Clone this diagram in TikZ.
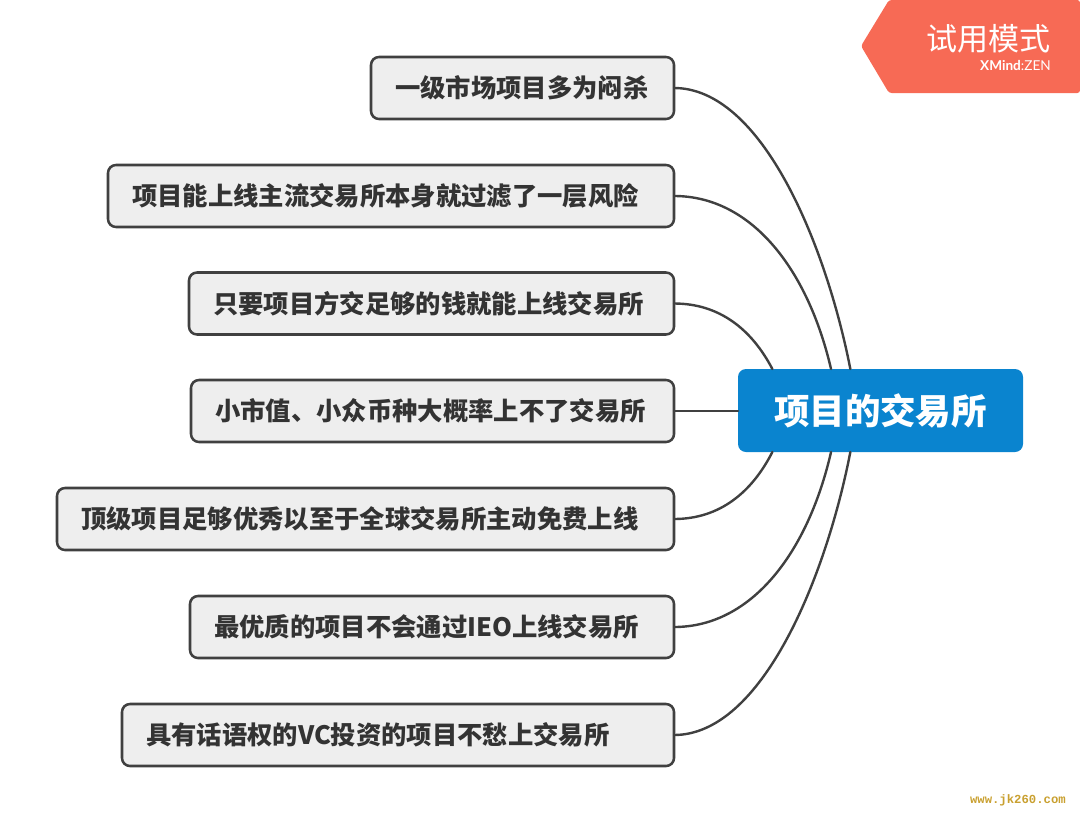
\documentclass[tikz,border=0pt]{standalone}
\usepackage{fontspec}
\setmainfont{Noto Sans CJK SC}
\setmonofont{Liberation Mono}
\setsansfont{Lato}
\definecolor{rootblue}{HTML}{0A84CF}
\definecolor{badgered}{HTML}{F76A55}
\definecolor{linegray}{HTML}{404040}
\definecolor{boxgray}{HTML}{EEEEEE}
\definecolor{markgold}{HTML}{C9A030}
\tikzset{
  branch/.style={draw=linegray, fill=boxgray, line width=1.9pt, rounded corners=6pt,
    anchor=east, outer sep=0pt, inner xsep=18pt, inner ysep=0pt, minimum height=46.5pt,
    align=left, text=black!80, font=\fontsize{19pt}{23pt}\selectfont\bfseries},
  link/.style={draw=linegray, line width=1.8pt},
}
\begin{document}
\begin{tikzpicture}[x=0.75pt, y=-0.75pt, line cap=round, line join=round]
\useasboundingbox (0,0) rectangle (1080,821);
% Root
\node[fill=rootblue, text=white, rounded corners=6pt, outer sep=0pt, inner sep=0pt,
  minimum width=213.75pt, minimum height=62.25pt,
  font=\fontsize{26.6pt}{30pt}\selectfont\bfseries] (root) at (880.5,410.5) {项目的交易所};
% Branches: y/width/text
\foreach \y/\w/\txt [count=\i] in {
  88/303/一级市场项目多为闷杀,
  196/566/项目能上线主流交易所本身就过滤了一层风险,
  303.5/485/只要项目方交足够的钱就能上线交易所,
  411/483/小市值、小众币种大概率上不了交易所,
  519/617/顶级项目足够优秀以至于全球交易所主动免费上线,
  627/484/最优质的项目不会通过IEO上线交易所,
  735/552/具有话语权的VC投资的项目不愁上交易所} {
  \node[branch, text width={\w*0.75pt-36pt}] (b\i) at (674,\y) {\txt};
}
% Curves into the root
\draw[link] (b1.east) .. controls (762,88) and (826,245) .. (root.126.3);
\draw[link] (b2.east) .. controls (752,196) and (808,270) .. (root.140);
\draw[link] (b3.east) .. controls (720,303.5) and (752,330) .. (root.159.8);
\draw[link] (b4.east) -- (b4.east -| root.west);
\draw[link] (b5.east) .. controls (720,519) and (752,492) .. (root.-159.8);
\draw[link] (b6.east) .. controls (752,627) and (808,552) .. (root.-140);
\draw[link] (b7.east) .. controls (762,735) and (826,577) .. (root.-126.3);
% Trial badge
\fill[badgered, rounded corners=2pt] (861,46) -- (889,0) -- (1080,0) -- (1080,93) -- (889,93) -- cycle;
\node[text=white, inner sep=0pt, anchor=east, font=\fontsize{23.3pt}{26pt}\selectfont] (badge) at (1051,39) {试用模式};
\node[text=white, inner sep=0pt, anchor=east, font=\sffamily\fontsize{10.2pt}{11pt}\selectfont] (brand) at (1051,65) {\textbf{XMind}:ZEN};
% Watermark
\node[text=markgold, inner sep=0pt, anchor=east, font=\ttfamily\bfseries\fontsize{9.2pt}{11pt}\selectfont] (mark) at (1066,800) {www.jk260.com};
\end{tikzpicture}
\end{document}
